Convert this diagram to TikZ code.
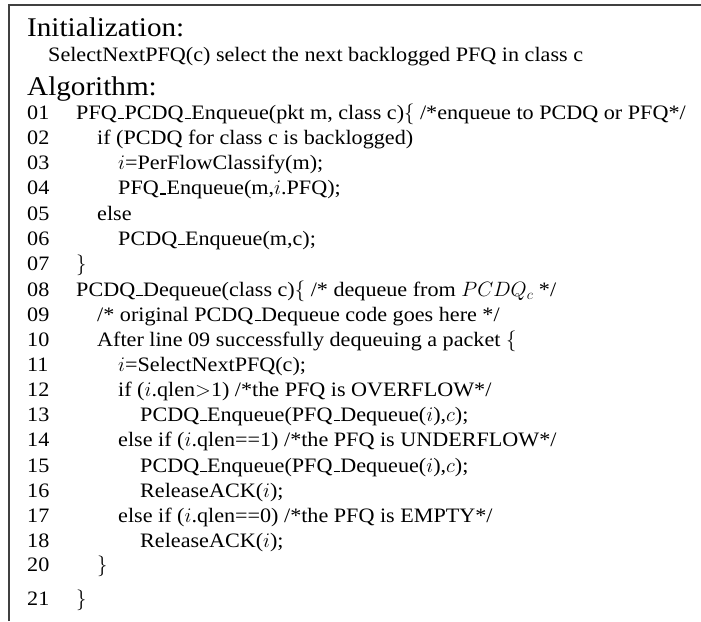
\documentclass[tikz,border=0pt]{standalone}
\usepackage{fontspec}
\setmainfont[FakeStretch=1.08]{Liberation Serif}
% low, short underscore sitting on the baseline
\newcommand\us{\leavevmode\kern.06em\vbox{\hrule width.3em height .05em}\kern.02em}
\begin{document}
\begin{tikzpicture}[x=1pt,y=-1pt,
  head/.style={anchor=base west, inner sep=0pt, font=\fontsize{27}{29}\selectfont},
  sub/.style={anchor=base west, inner sep=0pt, font=\fontsize{20.5}{23}\selectfont},
  num/.style={anchor=base west, inner sep=0pt, font=\fontsize{20.5}{23}\selectfont},
  code/.style={anchor=base west, inner sep=0pt, font=\fontsize{20.5}{23}\selectfont},
  frame/.style={draw=black!75, line width=1.4pt}]
\useasboundingbox (0,0) rectangle (701,621);
% open frame: top and left edges only
\draw[frame] (9,621) -- (9,5) -- (701,5);

% header
\node[head] (init) at (27,36) {Initialization:};
\node[sub] (initdesc) at (48,61) {SelectNextPFQ(c) select the next backlogged PFQ in class c};
\node[head] (algo) at (27,95) {Algorithm:};

% line numbers
\node[num] (n01) at (27,119) {01};
\node[num] (n02) at (27,144) {02};
\node[num] (n03) at (27,169) {03};
\node[num] (n04) at (27,194.5) {04};
\node[num] (n05) at (27,220) {05};
\node[num] (n06) at (27,245) {06};
\node[num] (n07) at (27,270) {07};
\node[num] (n08) at (27,296) {08};
\node[num] (n09) at (27,321) {09};
\node[num] (n10) at (27,346) {10};
\node[num] (n11) at (27,371) {11};
\node[num] (n12) at (27,396) {12};
\node[num] (n13) at (27,421) {13};
\node[num] (n14) at (27,446) {14};
\node[num] (n15) at (27,472) {15};
\node[num] (n16) at (27,497) {16};
\node[num] (n17) at (27,522) {17};
\node[num] (n18) at (27,547) {18};
\node[num] (n20) at (27,571) {20};
\node[num] (n21) at (27,605) {21};

% code lines, four indent levels
\node[code] (l01) at (76,119) {PFQ\us PCDQ\us Enqueue(pkt m, class c)$\{$ /*enqueue to PCDQ or PFQ*/};
\node[code] (l02) at (97,144) {if (PCDQ for class c is backlogged)};
\node[code] (l03) at (118,169) {$i$=PerFlowClassify(m);};
\node[code] (l04) at (118,194.5) {PFQ\us Enqueue(m,$i$.PFQ);};
\node[code] (l05) at (97,220) {else};
\node[code] (l06) at (118,245) {PCDQ\us Enqueue(m,c);};
\node[code] (l07) at (76,270) {$\}$};
\node[code] (l08) at (76,296) {PCDQ\us Dequeue(class c)$\{$ /* dequeue from $PCDQ_c$ */};
\node[code] (l09) at (97,321) {/* original PCDQ\us Dequeue code goes here */};
\node[code] (l10) at (97,346) {After line 09 successfully dequeuing a packet $\{$};
\node[code] (l11) at (118,371) {$i$=SelectNextPFQ(c);};
\node[code] (l12) at (118,396) {if ($i$.qlen$>$1) /*the PFQ is OVERFLOW*/};
\node[code] (l13) at (140,421) {PCDQ\us Enqueue(PFQ\us Dequeue($i$),$c$);};
\node[code] (l14) at (118,446) {else if ($i$.qlen==1) /*the PFQ is UNDERFLOW*/};
\node[code] (l15) at (140,472) {PCDQ\us Enqueue(PFQ\us Dequeue($i$),$c$);};
\node[code] (l16) at (140,497) {ReleaseACK($i$);};
\node[code] (l17) at (118,522) {else if ($i$.qlen==0) /*the PFQ is EMPTY*/};
\node[code] (l18) at (140,547) {ReleaseACK($i$);};
\node[code] (l20) at (97,571) {$\}$};
\node[code] (l21) at (76,605) {$\}$};
\end{tikzpicture}
\end{document}
